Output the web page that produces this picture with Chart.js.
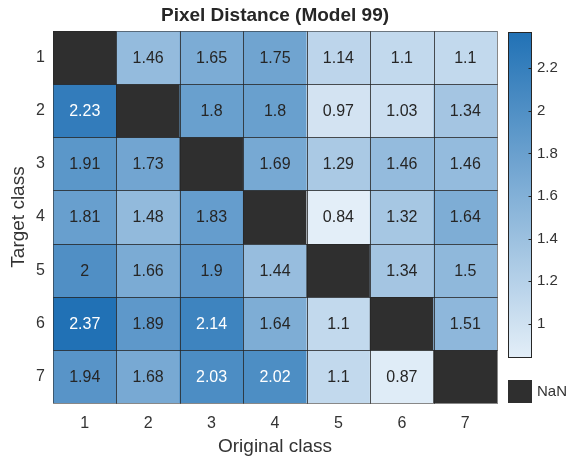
<!DOCTYPE html>
<html>
<head>
<meta charset="utf-8">
<script src="https://cdn.jsdelivr.net/npm/chart.js@4/dist/chart.umd.min.js"></script>
<style>
  html, body { margin: 0; padding: 0; background: #ffffff; }
  #wrap { position: relative; width: 574px; height: 461px; }
  #heat { position: absolute; left: 0; top: 0; }
  #cbar { position: absolute; left: 500px; top: 0; }
</style>
</head>
<body>
<div id="wrap">
  <canvas id="heat" width="574" height="461"></canvas>
  <canvas id="cbar" width="74" height="461"></canvas>
</div>
<script>
// Heatmap data: rows are target classes, columns are original classes.
const chartTitle = 'Pixel Distance (Model 99)';
const originalClasses = ['1', '2', '3', '4', '5', '6', '7'];
const targetClasses = ['1', '2', '3', '4', '5', '6', '7'];
const row1 = [null, 1.46, 1.65, 1.75, 1.14, 1.1, 1.1];
const row2 = [2.23, null, 1.8, 1.8, 0.97, 1.03, 1.34];
const row3 = [1.91, 1.73, null, 1.69, 1.29, 1.46, 1.46];
const row4 = [1.81, 1.48, 1.83, null, 0.84, 1.32, 1.64];
const row5 = [2, 1.66, 1.9, 1.44, null, 1.34, 1.5];
const row6 = [2.37, 1.89, 2.14, 1.64, 1.1, null, 1.51];
const row7 = [1.94, 1.68, 2.03, 2.02, 1.1, 0.87, null];
const distances = [row1, row2, row3, row4, row5, row6, row7];
const colorbarTicks = [1, 1.2, 1.4, 1.6, 1.8, 2, 2.2];

const FONT = '"Liberation Sans", Arial, Helvetica, sans-serif';
const TEXT = '#333333';
const MISSING = '#2f2f2f';
const GRIDLINE = 'rgba(38,38,38,0.55)';

// Colour limits follow the data range.
const allValues = distances.flat().filter(v => v !== null);
const cmin = Math.min(...allValues);
const cmax = Math.max(...allValues);

// Sequential blue colormap (light -> dark).
const LIGHT = [227, 238, 248];
const DARK = [33, 113, 181];
function rgbAt(t) {
  t = Math.max(0, Math.min(1, t));
  return LIGHT.map((c, k) => Math.round(c + (DARK[k] - c) * t));
}
function colorFor(v) {
  const [r, g, b] = rgbAt((v - cmin) / (cmax - cmin));
  return `rgb(${r},${g},${b})`;
}
// White labels on dark cells, dark labels on light cells.
function textColorFor(v) {
  const [r, g, b] = rgbAt((v - cmin) / (cmax - cmin));
  const lum = 0.299 * r + 0.587 * g + 0.114 * b;
  return lum < 129.6 ? '#ffffff' : '#262626';
}

// One floating-bar dataset per target class; each bar spans one row band.
const datasets = targetClasses.map((t, i) => {
  const yc = Number(t);
  return {
    label: 'Target ' + t,
    data: originalClasses.map(() => [yc - 0.5, yc + 0.5]),
    values: distances[i],
    backgroundColor: distances[i].map(v => v === null ? MISSING : colorFor(v)),
    borderWidth: 0,
    barPercentage: 1,
    categoryPercentage: 1,
    grouped: false
  };
});

const cellDecor = {
  id: 'cellDecor',
  afterDatasetsDraw(chart) {
    const ctx = chart.ctx;
    ctx.save();
    // cell outlines
    ctx.strokeStyle = GRIDLINE;
    ctx.lineWidth = 1;
    chart.data.datasets.forEach((ds, di) => {
      chart.getDatasetMeta(di).data.forEach(el => {
        const left = Math.round(el.x - el.width / 2) + 0.5;
        const right = Math.round(el.x + el.width / 2) + 0.5;
        const top = Math.round(Math.min(el.y, el.base)) + 0.5;
        const bottom = Math.round(Math.max(el.y, el.base)) + 0.5;
        ctx.strokeRect(left, top, right - left, bottom - top);
      });
    });
    // values
    ctx.font = '16px ' + FONT;
    ctx.textAlign = 'center';
    ctx.textBaseline = 'middle';
    chart.data.datasets.forEach((ds, di) => {
      chart.getDatasetMeta(di).data.forEach((el, j) => {
        const v = ds.values[j];
        if (v === null) return;
        ctx.fillStyle = textColorFor(v);
        ctx.fillText(String(v), el.x, (el.y + el.base) / 2 + 1);
      });
    });
    ctx.restore();
  },
  afterDraw(chart) {
    const ctx = chart.ctx;
    const ca = chart.chartArea;
    ctx.save();
    ctx.font = 'bold 19px ' + FONT;
    ctx.fillStyle = '#262626';
    ctx.textAlign = 'center';
    ctx.textBaseline = 'middle';
    ctx.fillText(chartTitle, (ca.left + ca.right) / 2, 16);
    ctx.restore();
  }
};

new Chart(document.getElementById('heat'), {
  type: 'bar',
  data: { labels: originalClasses, datasets },
  options: {
    responsive: false,
    devicePixelRatio: 1,
    animation: false,
    layout: { padding: { left: 0, right: 77, top: 31, bottom: 0 } },
    plugins: { legend: { display: false }, tooltip: { enabled: false } },
    scales: {
      x: {
        type: 'category',
        grid: { display: false, drawTicks: false },
        border: { display: false },
        ticks: { font: { size: 16, family: FONT }, color: TEXT, padding: 11 },
        title: { display: true, text: 'Original class', font: { size: 19, family: FONT }, color: TEXT, padding: { top: 4, bottom: 3 } },
        afterFit(s) { s.height = 58; }
      },
      y: {
        type: 'linear',
        reverse: true,
        min: 0.5,
        max: 7.5,
        afterBuildTicks(s) { s.ticks = targetClasses.map(t => ({ value: Number(t) })); },
        grid: { display: false, drawTicks: false },
        border: { display: false },
        ticks: { font: { size: 16, family: FONT }, color: TEXT, padding: 8, callback: v => String(v) },
        title: { display: true, text: 'Target class', font: { size: 19, family: FONT }, color: TEXT, padding: { top: 7, bottom: 4 } },
        afterFit(s) { s.width = 53; }
      }
    }
  },
  plugins: [cellDecor]
});

// Colorbar
const cbarDecor = {
  id: 'cbarDecor',
  afterDraw(chart) {
    const ctx = chart.ctx;
    const ca = chart.chartArea;
    const ys = chart.scales.y;
    ctx.save();
    ctx.strokeStyle = '#262626';
    ctx.lineWidth = 1;
    const l = Math.round(ca.left) + 0.5, r = Math.round(ca.right) - 0.5;
    const t = Math.round(ca.top) + 0.5, b = Math.round(ca.bottom) - 0.5;
    ctx.strokeRect(l, t, r - l, b - t);
    ctx.beginPath();
    colorbarTicks.forEach(v => {
      const y = Math.round(ys.getPixelForValue(v)) + 0.5;
      ctx.moveTo(r, y);
      ctx.lineTo(r - 3, y);
    });
    ctx.stroke();
    // missing-data swatch
    const boxTop = Math.round(ca.bottom) + 22;
    ctx.fillStyle = MISSING;
    ctx.fillRect(Math.round(ca.left), boxTop, Math.round(ca.right) - Math.round(ca.left), 23);
    ctx.font = '15px ' + FONT;
    ctx.fillStyle = TEXT;
    ctx.textAlign = 'left';
    ctx.textBaseline = 'middle';
    ctx.fillText('NaN', ca.right + 5, boxTop + 12);
    ctx.restore();
  }
};

new Chart(document.getElementById('cbar'), {
  type: 'bar',
  data: {
    labels: ['scale'],
    datasets: [{
      data: [[cmin, cmax]],
      barPercentage: 1,
      categoryPercentage: 1,
      borderWidth: 0,
      backgroundColor(c) {
        const chart = c.chart;
        if (!chart.chartArea) return colorFor(cmin);
        const ys = chart.scales.y;
        const g = chart.ctx.createLinearGradient(0, ys.getPixelForValue(cmin), 0, ys.getPixelForValue(cmax));
        for (let k = 0; k <= 10; k++) {
          const [r, gg, b] = rgbAt(k / 10);
          g.addColorStop(k / 10, `rgb(${r},${gg},${b})`);
        }
        return g;
      }
    }]
  },
  options: {
    responsive: false,
    devicePixelRatio: 1,
    animation: false,
    layout: { padding: { left: 8, right: 0, top: 32, bottom: 103 } },
    plugins: { legend: { display: false }, tooltip: { enabled: false } },
    scales: {
      x: { display: false },
      y: {
        position: 'right',
        min: cmin,
        max: cmax,
        afterBuildTicks(s) { s.ticks = colorbarTicks.map(v => ({ value: v })); },
        afterFit(s) { s.width = 42; },
        grid: { display: false, drawTicks: false },
        border: { display: false },
        ticks: { font: { size: 15, family: FONT }, color: TEXT, padding: 5, callback: v => String(v) }
      }
    }
  },
  plugins: [cbarDecor]
});
</script>
</body>
</html>
